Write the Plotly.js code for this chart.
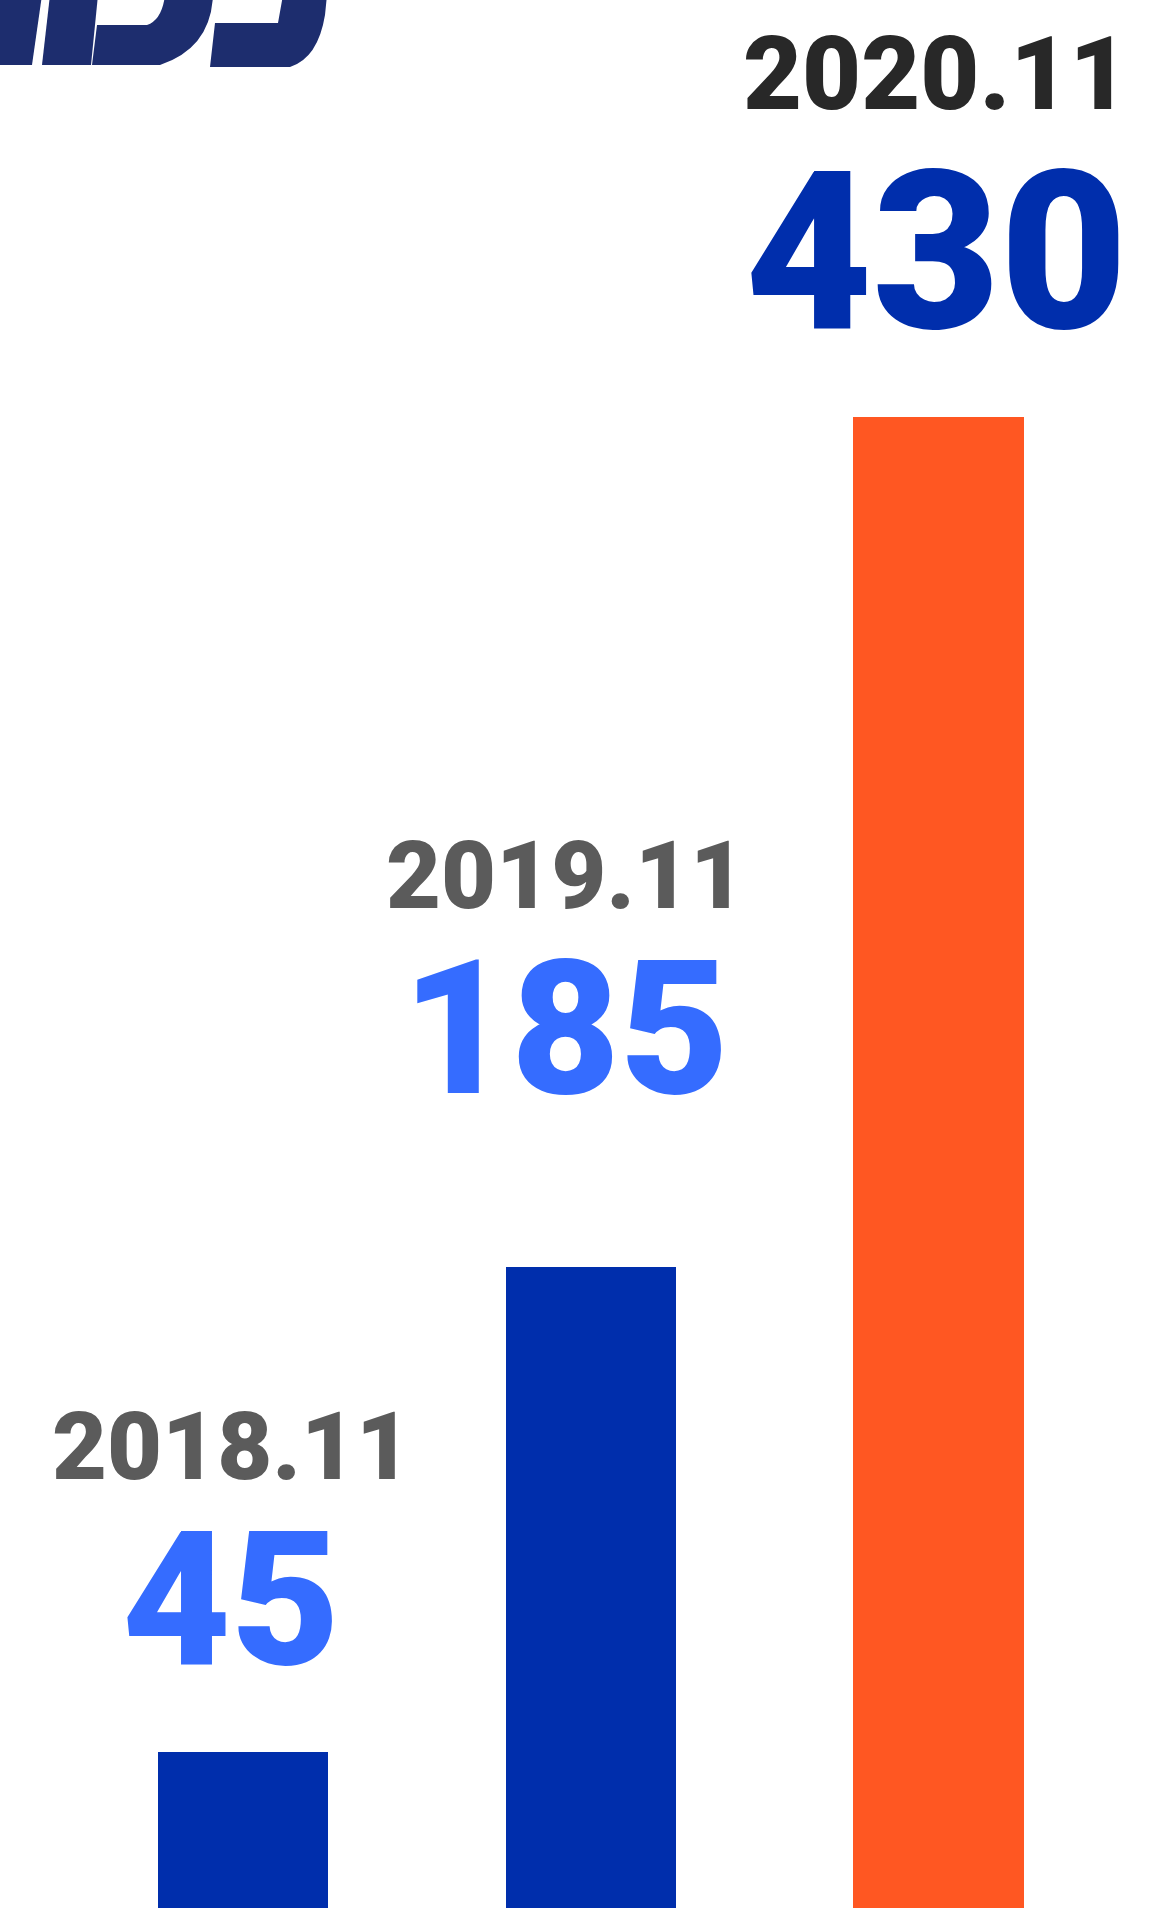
<!DOCTYPE html>
<html>
<head>
<meta charset="utf-8">
<script src="https://cdn.plot.ly/plotly-3.0.1.min.js"></script>
<style>
  html, body { margin: 0; padding: 0; background: #ffffff; }
  #chart { width: 1153px; height: 1908px; }
</style>
</head>
<body>
<div id="chart"></div>
<script>
// ---- data ----
const periods = ['2018.11', '2019.11', '2020.11'];
const counts = [45, 185, 430];

// ---- styles ----
const barColors = ['#002EAC', '#002EAC', '#FF5722'];
const periodColors = ['#5B5B5B', '#5B5B5B', '#282828'];
const countColors = ['#356CFF', '#356CFF', '#002EAC'];
const periodSizes = [95, 95, 102];
const countSizes = [188, 188, 220];
const labelXShift = [-12, -25, -2];
const periodY = [0.2419, 0.5409, 0.9615];
const countY = [0.1614, 0.4607, 0.8679];

const W = 1153, H = 1908;
const xRange = [-0.699, 2.617];

const trace = {
  type: 'bar',
  x: periods,
  y: counts,
  width: 0.49,
  marker: { color: barColors, line: { width: 0 } },
  hoverinfo: 'skip',
  showlegend: false
};

const FONT = 'Roboto, "Open Sans", sans-serif';
const annotations = [];
periods.forEach((p, i) => {
  const xp = (i - xRange[0]) / (xRange[1] - xRange[0]);
  annotations.push({
    xref: 'paper', yref: 'paper', x: xp, y: periodY[i], xshift: labelXShift[i],
    xanchor: 'center', yanchor: 'middle', showarrow: false,
    height: Math.round(periodSizes[i] * 0.85),
    text: p,
    font: { family: FONT, size: periodSizes[i], color: periodColors[i], weight: 900 }
  });
  annotations.push({
    xref: 'paper', yref: 'paper', x: xp, y: countY[i], xshift: labelXShift[i],
    xanchor: 'center', yanchor: 'middle', showarrow: false,
    height: Math.round(countSizes[i] * 0.85),
    text: String(counts[i]),
    font: { family: FONT, size: countSizes[i], color: countColors[i], weight: 900 }
  });
});

// partial logo at the top-left corner (decorative, pixel paths from top-left)
const logoColor = '#1D2D6E';
const logoPaths = [
  'M -5,5 L 42,5 L 32,-65 L -5,-65 Z',
  'M 50,5 L 98,5 L 91,-65 L 42,-65 Z',
  'M 92,-65 L 97,-25 L 147,-25 Q 162,-20 165,5 L 213,5 Q 211,-48 160,-65 Z',
  'M 210,-67 L 215,-23 L 278,-23 L 283,5 L 327,5 L 325,-15 Q 318,-58 290,-67 Z'
];
const shapes = logoPaths.map(p => ({
  type: 'path', xref: 'paper', yref: 'paper',
  xsizemode: 'pixel', ysizemode: 'pixel', xanchor: 0, yanchor: 1,
  path: p, fillcolor: logoColor, line: { width: 0 }, layer: 'above'
}));

const layout = {
  width: W, height: H,
  margin: { l: 0, r: 0, t: 0, b: 0, pad: 0 },
  paper_bgcolor: '#ffffff', plot_bgcolor: '#ffffff',
  xaxis: { type: 'category', range: xRange, showgrid: false, zeroline: false, showticklabels: false, ticks: '', showline: false, fixedrange: true },
  yaxis: { range: [0, 550.3], showgrid: false, zeroline: false, showticklabels: false, ticks: '', showline: false, fixedrange: true },
  bargap: 0,
  annotations: annotations,
  shapes: shapes,
  hovermode: false
};

Plotly.newPlot('chart', [trace], layout, { displayModeBar: false });
</script>
</body>
</html>
